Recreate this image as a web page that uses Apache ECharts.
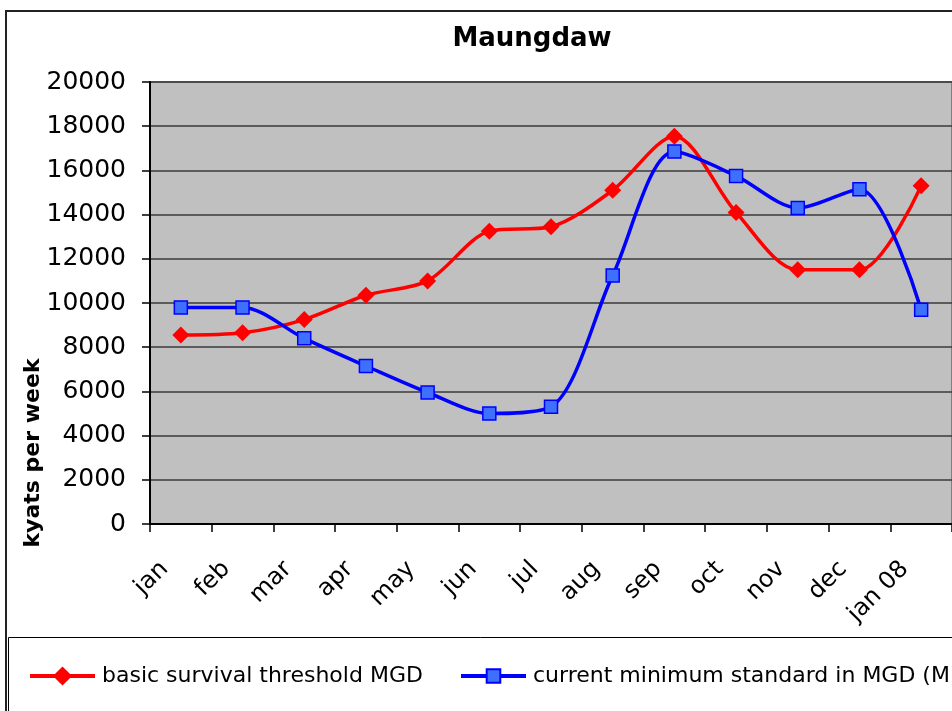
<!DOCTYPE html>
<html>
<head>
<meta charset="utf-8">
<script src="https://cdn.jsdelivr.net/npm/echarts@6/dist/echarts.min.js"></script>
<style>
  html, body { margin: 0; padding: 0; background: #fff; }
  #main { width: 952px; height: 711px; }
</style>
</head>
<body>
<div id="main"></div>
<script>
(function (echarts) {
  'use strict';

  var months = ['jan', 'feb', 'mar', 'apr', 'may', 'jun', 'jul', 'aug', 'sep', 'oct', 'nov', 'dec', 'jan 08'];
  var threshold = [8550, 8650, 9250, 10350, 11000, 13250, 13450, 15100, 17550, 14100, 11500, 11500, 15300];
  var minimum = [9800, 9800, 8400, 7150, 5950, 5000, 5300, 11250, 16850, 15750, 14300, 15150, 9700];
  var names = ['basic survival threshold MGD', 'current minimum standard in MGD (M)'];

  var font = '"DejaVu Sans", Verdana, sans-serif';

  function legendAt(left, name, h) {
    return {
      left: left,
      top: 665,
      padding: 0,
      itemWidth: 65,
      itemHeight: h,
      lineStyle: {width: 4},
      textStyle: {fontSize: 22, color: '#000', fontFamily: font, padding: [0, 0, 0, 2]},
      data: [name]
    };
  }

  echarts.init(document.getElementById('main')).setOption({
    backgroundColor: '#fff',
    animation: false,
    textStyle: {fontFamily: font},
    title: {
      text: 'Maungdaw',
      left: 527,
      top: 21,
      textAlign: 'center',
      textStyle: {fontSize: 26, fontWeight: 'bold', color: '#000', fontFamily: font}
    },
    graphic: [
      // outer chart border, cut off on the right and bottom
      {type: 'rect', shape: {x: 6, y: 11, width: 1000, height: 800}, style: {fill: null, stroke: '#222', lineWidth: 2}, z: 0},
      // legend box
      {type: 'rect', shape: {x: 8.5, y: 637.5, width: 1000, height: 200}, style: {fill: '#fff', stroke: '#000', lineWidth: 1}, z: 1},
      {
        type: 'text', x: 33, y: 453, rotation: Math.PI / 2,
        style: {text: 'kyats per week', font: 'bold 22px ' + font, fill: '#000', align: 'center', verticalAlign: 'middle'}
      }
    ],
    legend: [legendAt(28, names[0], 24), legendAt(459, names[1], 17)],
    grid: {
      left: 150,
      top: 82,
      right: -2,
      bottom: 187,
      show: true,
      backgroundColor: '#c0c0c0',
      borderColor: '#808080',
      borderWidth: 2
    },
    xAxis: {
      type: 'category',
      data: months,
      boundaryGap: true,
      axisLine: {lineStyle: {color: '#000', width: 2}},
      axisTick: {show: true, length: 8, lineStyle: {color: '#000', width: 1.5}},
      axisLabel: {
        rotate: 45, interval: 0, margin: 25, fontSize: 24, color: '#000', fontFamily: font,
        padding: [0, 23, 0, 0]
      }
    },
    yAxis: {
      type: 'value',
      min: 0,
      max: 20000,
      interval: 2000,
      axisLine: {show: true, lineStyle: {color: '#000', width: 2}},
      axisTick: {show: true, length: 8, lineStyle: {color: '#000', width: 1.5}},
      axisLabel: {
        fontSize: 25, color: '#000', margin: 24, fontFamily: font,
        formatter: function (v) { return String(v); }
      },
      splitLine: {lineStyle: {color: '#3a3a3a', width: 1.5}}
    },
    series: [{
      name: names[0],
      type: 'line',
      data: threshold,
      smooth: 0.3,
      symbol: 'diamond',
      symbolSize: 17,
      lineStyle: {color: '#ff0000', width: 3.5},
      itemStyle: {color: '#ff0000', borderColor: '#ff0000', borderWidth: 0}
    }, {
      name: names[1],
      type: 'line',
      data: minimum,
      smooth: 0.3,
      symbol: 'rect',
      symbolSize: 13,
      lineStyle: {color: '#0000ff', width: 3.5},
      itemStyle: {color: '#3f6fff', borderColor: '#0000ff', borderWidth: 1.5}
    }]
  });
})(window.echarts);
</script>
</body>
</html>
